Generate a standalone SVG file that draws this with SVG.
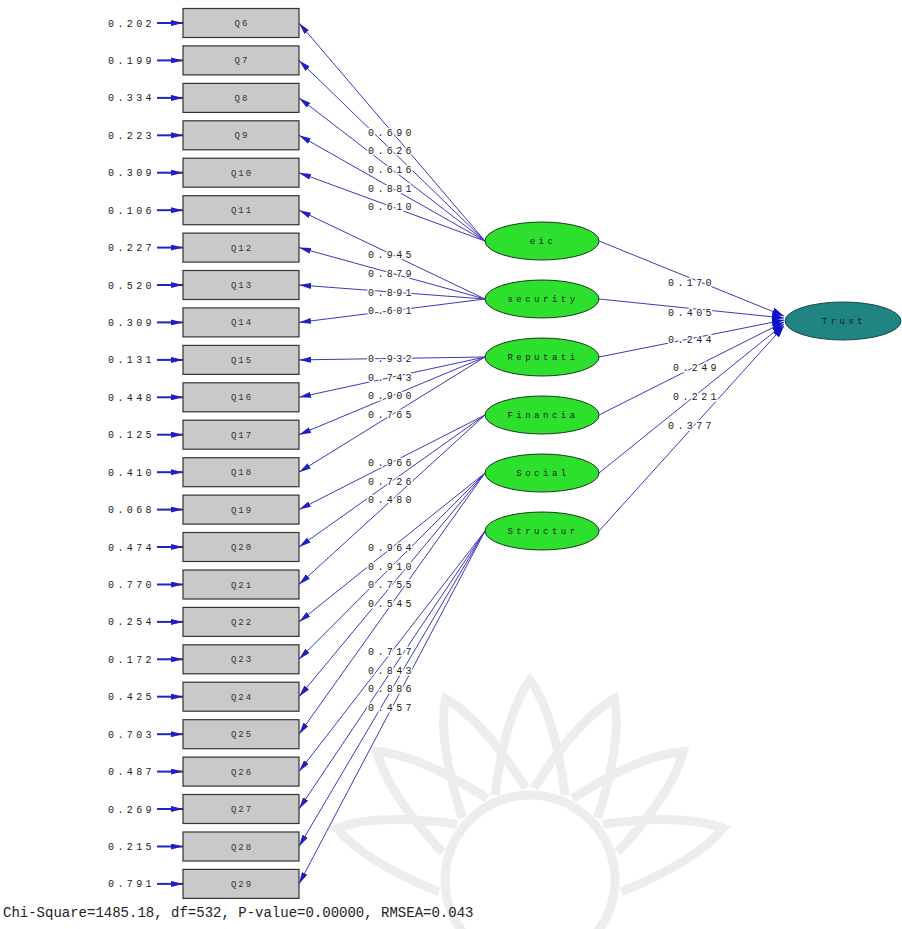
<svg xmlns="http://www.w3.org/2000/svg" width="902" height="929" viewBox="0 0 902 929">
<style>
.t{font-family:"Liberation Mono","DejaVu Sans Mono",monospace;font-size:10px;letter-spacing:3.4px;fill:#222}
.lab{paint-order:stroke;stroke:#fff;stroke-width:3px}
.box{fill:#c9c9c9;stroke:#333;stroke-width:1.2}
.bt{font-family:"Liberation Mono","DejaVu Sans Mono",monospace;font-size:9px;letter-spacing:2px;fill:#333;text-anchor:middle}
.lat{fill:#2ee02e;stroke:#1a3a1a;stroke-width:1}
.lt{font-family:"Liberation Mono","DejaVu Sans Mono",monospace;font-size:9px;letter-spacing:3.5px;fill:#1a1a1a;text-anchor:middle}
.ln{stroke:#3a3ab8;stroke-width:1;fill:none;marker-end:url(#ah)}
.sl{stroke:#3a3ab8;stroke-width:1;fill:none;marker-end:url(#ah2)}
.er{stroke:#2424c0;stroke-width:2;fill:none;marker-end:url(#ah)}
.wm{fill:none;stroke:#ededed;stroke-width:9}
</style>
<defs>
<marker id="ah" markerUnits="userSpaceOnUse" viewBox="0 0 12 6" refX="12" refY="3" markerWidth="12" markerHeight="6" orient="auto"><path d="M0,0 L12,3 L0,6 z" fill="#2020c0"/></marker>
<marker id="ah2" markerUnits="userSpaceOnUse" viewBox="0 0 12 8" refX="12" refY="4" markerWidth="12" markerHeight="8" orient="auto"><path d="M0,0 L12,4 L0,8 z" fill="#1010c8"/></marker>
</defs>
<rect width="902" height="929" fill="#fff"/>
<g id="watermark" transform="translate(530,880)">
<circle r="85" class="wm"/>
<path class="wm" d="M-35,-85 Q-25,-165 0,-200 Q25,-165 35,-85"/>
<path class="wm" transform="rotate(-25)" d="M-35,-85 Q-25,-165 0,-200 Q25,-165 35,-85"/>
<path class="wm" transform="rotate(25)" d="M-35,-85 Q-25,-165 0,-200 Q25,-165 35,-85"/>
<path class="wm" transform="rotate(-50)" d="M-35,-85 Q-25,-165 0,-200 Q25,-165 35,-85"/>
<path class="wm" transform="rotate(50)" d="M-35,-85 Q-25,-165 0,-200 Q25,-165 35,-85"/>
<path class="wm" transform="rotate(-75)" d="M-35,-85 Q-25,-165 0,-200 Q25,-165 35,-85"/>
<path class="wm" transform="rotate(75)" d="M-35,-85 Q-25,-165 0,-200 Q25,-165 35,-85"/>
</g>
<g id="connectors">
<line class="er" x1="157" y1="23" x2="183" y2="23"/>
<line class="er" x1="157" y1="60.4" x2="183" y2="60.4"/>
<line class="er" x1="157" y1="97.9" x2="183" y2="97.9"/>
<line class="er" x1="157" y1="135.3" x2="183" y2="135.3"/>
<line class="er" x1="157" y1="172.7" x2="183" y2="172.7"/>
<line class="er" x1="157" y1="210.2" x2="183" y2="210.2"/>
<line class="er" x1="157" y1="247.6" x2="183" y2="247.6"/>
<line class="er" x1="157" y1="285" x2="183" y2="285"/>
<line class="er" x1="157" y1="322.4" x2="183" y2="322.4"/>
<line class="er" x1="157" y1="359.9" x2="183" y2="359.9"/>
<line class="er" x1="157" y1="397.3" x2="183" y2="397.3"/>
<line class="er" x1="157" y1="434.7" x2="183" y2="434.7"/>
<line class="er" x1="157" y1="472.2" x2="183" y2="472.2"/>
<line class="er" x1="157" y1="509.6" x2="183" y2="509.6"/>
<line class="er" x1="157" y1="547" x2="183" y2="547"/>
<line class="er" x1="157" y1="584.5" x2="183" y2="584.5"/>
<line class="er" x1="157" y1="621.9" x2="183" y2="621.9"/>
<line class="er" x1="157" y1="659.3" x2="183" y2="659.3"/>
<line class="er" x1="157" y1="696.7" x2="183" y2="696.7"/>
<line class="er" x1="157" y1="734.2" x2="183" y2="734.2"/>
<line class="er" x1="157" y1="771.6" x2="183" y2="771.6"/>
<line class="er" x1="157" y1="809" x2="183" y2="809"/>
<line class="er" x1="157" y1="846.5" x2="183" y2="846.5"/>
<line class="er" x1="157" y1="883.9" x2="183" y2="883.9"/>
<line class="ln" x1="485" y1="241" x2="299" y2="23"/>
<line class="ln" x1="485" y1="241" x2="299" y2="60.4"/>
<line class="ln" x1="485" y1="241" x2="299" y2="97.9"/>
<line class="ln" x1="485" y1="241" x2="299" y2="135.3"/>
<line class="ln" x1="485" y1="241" x2="299" y2="172.7"/>
<line class="ln" x1="485" y1="299" x2="299" y2="210.2"/>
<line class="ln" x1="485" y1="299" x2="299" y2="247.6"/>
<line class="ln" x1="485" y1="299" x2="299" y2="285"/>
<line class="ln" x1="485" y1="299" x2="299" y2="322.4"/>
<line class="ln" x1="485" y1="357" x2="299" y2="359.9"/>
<line class="ln" x1="485" y1="357" x2="299" y2="397.3"/>
<line class="ln" x1="485" y1="357" x2="299" y2="434.7"/>
<line class="ln" x1="485" y1="357" x2="299" y2="472.2"/>
<line class="ln" x1="485" y1="415" x2="299" y2="509.6"/>
<line class="ln" x1="485" y1="415" x2="299" y2="547"/>
<line class="ln" x1="485" y1="415" x2="299" y2="584.5"/>
<line class="ln" x1="485" y1="473" x2="299" y2="621.9"/>
<line class="ln" x1="485" y1="473" x2="299" y2="659.3"/>
<line class="ln" x1="485" y1="473" x2="299" y2="696.7"/>
<line class="ln" x1="485" y1="473" x2="299" y2="734.2"/>
<line class="ln" x1="485" y1="531" x2="299" y2="771.6"/>
<line class="ln" x1="485" y1="531" x2="299" y2="809"/>
<line class="ln" x1="485" y1="531" x2="299" y2="846.5"/>
<line class="ln" x1="485" y1="531" x2="299" y2="883.9"/>
<line class="sl" x1="599" y1="241" x2="784" y2="316"/>
<line class="sl" x1="599" y1="299" x2="784" y2="318"/>
<line class="sl" x1="599" y1="357" x2="784" y2="320"/>
<line class="sl" x1="599" y1="415" x2="784" y2="322"/>
<line class="sl" x1="599" y1="473" x2="784" y2="324"/>
<line class="sl" x1="599" y1="531" x2="784" y2="326"/>
<text class="t lab" x="368" y="135.5">0.690</text>
<text class="t lab" x="368" y="154.2">0.626</text>
<text class="t lab" x="368" y="173">0.616</text>
<text class="t lab" x="368" y="191.7">0.881</text>
<text class="t lab" x="368" y="210.4">0.610</text>
<text class="t lab" x="368" y="258.1">0.945</text>
<text class="t lab" x="368" y="276.8">0.879</text>
<text class="t lab" x="368" y="295.5">0.891</text>
<text class="t lab" x="368" y="314.2">0.601</text>
<text class="t lab" x="368" y="362">0.932</text>
<text class="t lab" x="368" y="380.7">0.743</text>
<text class="t lab" x="368" y="399.4">0.900</text>
<text class="t lab" x="368" y="418.1">0.765</text>
<text class="t lab" x="368" y="465.8">0.966</text>
<text class="t lab" x="368" y="484.5">0.726</text>
<text class="t lab" x="368" y="503.3">0.480</text>
<text class="t lab" x="368" y="551">0.964</text>
<text class="t lab" x="368" y="569.7">0.910</text>
<text class="t lab" x="368" y="588.4">0.755</text>
<text class="t lab" x="368" y="607.1">0.545</text>
<text class="t lab" x="368" y="654.8">0.717</text>
<text class="t lab" x="368" y="673.5">0.843</text>
<text class="t lab" x="368" y="692.3">0.886</text>
<text class="t lab" x="368" y="711">0.457</text>
<text class="t lab" x="668" y="285.5">0.170</text>
<text class="t lab" x="668" y="315.5">0.405</text>
<text class="t lab" x="668" y="342.5">0.244</text>
<text class="t lab" x="673" y="370.5">0.249</text>
<text class="t lab" x="673" y="399.5">0.221</text>
<text class="t lab" x="668" y="428.5">0.377</text>
</g>
<g id="errors">
<text class="t" x="108" y="26.5">0.202</text>
<text class="t" x="108" y="63.9">0.199</text>
<text class="t" x="108" y="101.4">0.334</text>
<text class="t" x="108" y="138.8">0.223</text>
<text class="t" x="108" y="176.2">0.309</text>
<text class="t" x="108" y="213.7">0.106</text>
<text class="t" x="108" y="251.1">0.227</text>
<text class="t" x="108" y="288.5">0.520</text>
<text class="t" x="108" y="325.9">0.309</text>
<text class="t" x="108" y="363.4">0.131</text>
<text class="t" x="108" y="400.8">0.448</text>
<text class="t" x="108" y="438.2">0.125</text>
<text class="t" x="108" y="475.7">0.410</text>
<text class="t" x="108" y="513.1">0.068</text>
<text class="t" x="108" y="550.5">0.474</text>
<text class="t" x="108" y="588">0.770</text>
<text class="t" x="108" y="625.4">0.254</text>
<text class="t" x="108" y="662.8">0.172</text>
<text class="t" x="108" y="700.2">0.425</text>
<text class="t" x="108" y="737.7">0.703</text>
<text class="t" x="108" y="775.1">0.487</text>
<text class="t" x="108" y="812.5">0.269</text>
<text class="t" x="108" y="850">0.215</text>
<text class="t" x="108" y="887.4">0.791</text>
</g>
<g id="Q6"><rect class="box" x="183" y="8.5" width="116" height="29"/><text class="bt" x="242" y="26">Q6</text></g>
<g id="Q7"><rect class="box" x="183" y="45.9" width="116" height="29"/><text class="bt" x="242" y="63.4">Q7</text></g>
<g id="Q8"><rect class="box" x="183" y="83.4" width="116" height="29"/><text class="bt" x="242" y="100.9">Q8</text></g>
<g id="Q9"><rect class="box" x="183" y="120.8" width="116" height="29"/><text class="bt" x="242" y="138.3">Q9</text></g>
<g id="Q10"><rect class="box" x="183" y="158.2" width="116" height="29"/><text class="bt" x="242" y="175.7">Q10</text></g>
<g id="Q11"><rect class="box" x="183" y="195.7" width="116" height="29"/><text class="bt" x="242" y="213.2">Q11</text></g>
<g id="Q12"><rect class="box" x="183" y="233.1" width="116" height="29"/><text class="bt" x="242" y="250.6">Q12</text></g>
<g id="Q13"><rect class="box" x="183" y="270.5" width="116" height="29"/><text class="bt" x="242" y="288">Q13</text></g>
<g id="Q14"><rect class="box" x="183" y="307.9" width="116" height="29"/><text class="bt" x="242" y="325.4">Q14</text></g>
<g id="Q15"><rect class="box" x="183" y="345.4" width="116" height="29"/><text class="bt" x="242" y="362.9">Q15</text></g>
<g id="Q16"><rect class="box" x="183" y="382.8" width="116" height="29"/><text class="bt" x="242" y="400.3">Q16</text></g>
<g id="Q17"><rect class="box" x="183" y="420.2" width="116" height="29"/><text class="bt" x="242" y="437.7">Q17</text></g>
<g id="Q18"><rect class="box" x="183" y="457.7" width="116" height="29"/><text class="bt" x="242" y="475.2">Q18</text></g>
<g id="Q19"><rect class="box" x="183" y="495.1" width="116" height="29"/><text class="bt" x="242" y="512.6">Q19</text></g>
<g id="Q20"><rect class="box" x="183" y="532.5" width="116" height="29"/><text class="bt" x="242" y="550">Q20</text></g>
<g id="Q21"><rect class="box" x="183" y="570" width="116" height="29"/><text class="bt" x="242" y="587.5">Q21</text></g>
<g id="Q22"><rect class="box" x="183" y="607.4" width="116" height="29"/><text class="bt" x="242" y="624.9">Q22</text></g>
<g id="Q23"><rect class="box" x="183" y="644.8" width="116" height="29"/><text class="bt" x="242" y="662.3">Q23</text></g>
<g id="Q24"><rect class="box" x="183" y="682.2" width="116" height="29"/><text class="bt" x="242" y="699.7">Q24</text></g>
<g id="Q25"><rect class="box" x="183" y="719.7" width="116" height="29"/><text class="bt" x="242" y="737.2">Q25</text></g>
<g id="Q26"><rect class="box" x="183" y="757.1" width="116" height="29"/><text class="bt" x="242" y="774.6">Q26</text></g>
<g id="Q27"><rect class="box" x="183" y="794.5" width="116" height="29"/><text class="bt" x="242" y="812">Q27</text></g>
<g id="Q28"><rect class="box" x="183" y="832" width="116" height="29"/><text class="bt" x="242" y="849.5">Q28</text></g>
<g id="Q29"><rect class="box" x="183" y="869.4" width="116" height="29"/><text class="bt" x="242" y="886.9">Q29</text></g>
<g id="eic"><ellipse class="lat" cx="542" cy="241" rx="57" ry="19"/><text class="lt" x="543" y="244">eic</text></g>
<g id="security"><ellipse class="lat" cx="542" cy="299" rx="57" ry="19"/><text class="lt" x="543" y="302">security</text></g>
<g id="reputati"><ellipse class="lat" cx="542" cy="357" rx="57" ry="19"/><text class="lt" x="543" y="360">Reputati</text></g>
<g id="financia"><ellipse class="lat" cx="542" cy="415" rx="57" ry="19"/><text class="lt" x="543" y="418">Financia</text></g>
<g id="social"><ellipse class="lat" cx="542" cy="473" rx="57" ry="19"/><text class="lt" x="543" y="476">Social</text></g>
<g id="structur"><ellipse class="lat" cx="542" cy="531" rx="57" ry="19"/><text class="lt" x="543" y="534">Structur</text></g>
<g id="trust"><ellipse cx="843" cy="321" rx="58" ry="19" fill="#1f8482" stroke="#174848" stroke-width="1"/><text class="lt" x="844" y="324">Trust</text></g>
<text x="3" y="917" style="font-family:'Liberation Mono','DejaVu Sans Mono',monospace;font-size:14px;fill:#222">Chi-Square=1485.18, df=532, P-value=0.00000, RMSEA=0.043</text>
</svg>
